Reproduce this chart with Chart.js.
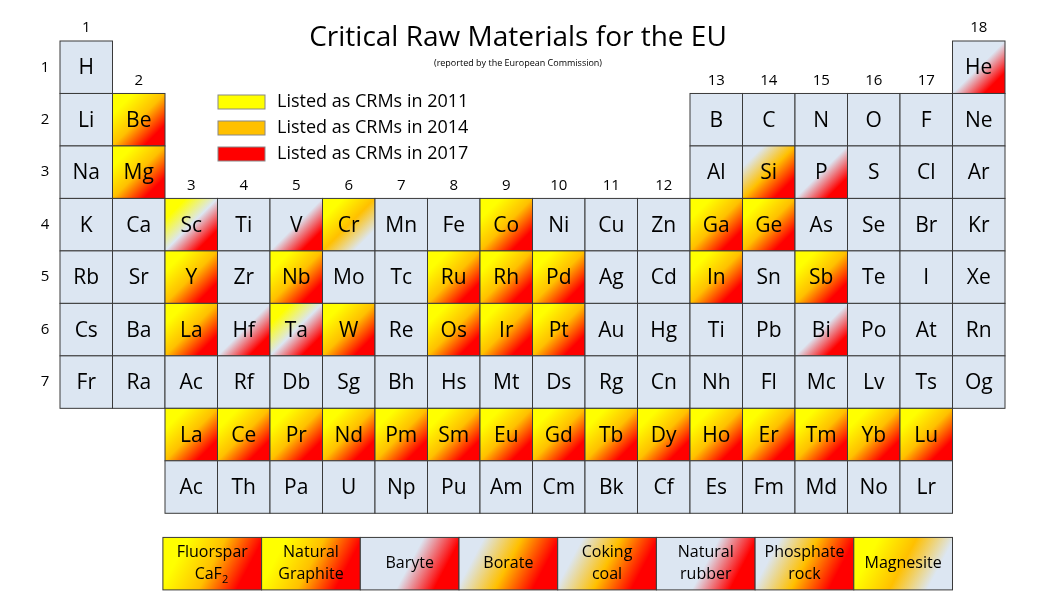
<!DOCTYPE html>
<html>
<head>
<meta charset="utf-8">
<script src="https://cdn.jsdelivr.net/npm/chart.js@4/dist/chart.umd.min.js"></script>
<style>
  body { margin: 0; background: #fff; }
  #wrap { width: 1050px; height: 600px; }
</style>
</head>
<body>
<div id="wrap"><canvas id="pt"></canvas></div>
<script>
// Periodic table layout, one string per row ('.' = empty cell)
const tableRows = [
    'H . . . . . . . . . . . . . . . . He',
    'Li Be . . . . . . . . . . B C N O F Ne',
    'Na Mg . . . . . . . . . . Al Si P S Cl Ar',
    'K Ca Sc Ti V Cr Mn Fe Co Ni Cu Zn Ga Ge As Se Br Kr',
    'Rb Sr Y Zr Nb Mo Tc Ru Rh Pd Ag Cd In Sn Sb Te I Xe',
    'Cs Ba La Hf Ta W Re Os Ir Pt Au Hg Ti Pb Bi Po At Rn',
    'Fr Ra Ac Rf Db Sg Bh Hs Mt Ds Rg Cn Nh Fl Mc Lv Ts Og',
    '. . La Ce Pr Nd Pm Sm Eu Gd Tb Dy Ho Er Tm Yb Lu .',
    '. . Ac Th Pa U Np Pu Am Cm Bk Cf Es Fm Md No Lr .'
];

const minerals = ['Fluorspar|CaF2', 'Natural|Graphite', 'Baryte', 'Borate', 'Coking|coal', 'Natural|rubber', 'Phosphate|rock', 'Magnesite'];

const lanthanides = ['Ce', 'Pr', 'Nd', 'Pm', 'Sm', 'Eu', 'Gd', 'Tb', 'Dy', 'Ho', 'Er', 'Tm', 'Yb', 'Lu'];
const crm2011 = ['Be', 'Mg', 'Sc', 'Cr', 'Co', 'Ga', 'Ge', 'Y', 'Nb', 'Ru', 'Rh', 'Pd', 'In', 'Sb', 'La', 'Ta', 'W', 'Os', 'Ir', 'Pt',
    'Fluorspar|CaF2', 'Natural|Graphite', 'Magnesite'].concat(lanthanides);
const crm2014 = ['Be', 'Mg', 'Si', 'Cr', 'Co', 'Ga', 'Ge', 'Y', 'Nb', 'Ru', 'Rh', 'Pd', 'In', 'Sb', 'La', 'W', 'Os', 'Ir', 'Pt',
    'Fluorspar|CaF2', 'Natural|Graphite', 'Borate', 'Coking|coal', 'Phosphate|rock', 'Magnesite'].concat(lanthanides);
const crm2017 = ['He', 'Be', 'Mg', 'Si', 'P', 'Sc', 'V', 'Co', 'Ga', 'Ge', 'Y', 'Nb', 'Ru', 'Rh', 'Pd', 'In', 'Sb', 'La', 'Hf', 'Ta',
    'W', 'Os', 'Ir', 'Pt', 'Bi', 'Fluorspar|CaF2', 'Natural|Graphite', 'Baryte', 'Borate', 'Coking|coal', 'Natural|rubber',
    'Phosphate|rock'].concat(lanthanides);

const groupLabels = ['1', '2', '3', '4', '5', '6', '7', '8', '9', '10', '11', '12', '13', '14', '15', '16', '17', '18'];
const periodLabels = ['1', '2', '3', '4', '5', '6', '7'];
const legendLabels = ['Listed as CRMs in 2011', 'Listed as CRMs in 2014', 'Listed as CRMs in 2017'];

const colors = { y2011: '#ffff00', y2014: '#ffc000', y2017: '#ff0000', none: '#dce6f2', border: '#3a3a3a' };
const font = '"Open Sans", "Liberation Sans", sans-serif';

// Build cell points
const cells = [];
tableRows.forEach((row, r) => {
    row.split(' ').forEach((sym, c) => {
        if (sym !== '.') cells.push({ x: c, y: r, w: 1, label: sym });
    });
});
const mineralStart = 1.96, mineralWidth = 1.88;
minerals.forEach((m, i) => cells.push({ x: mineralStart + i * mineralWidth, y: 9.46, w: mineralWidth, label: m }));

function cellFill(ctx, x0, y0, x1, y1, label) {
    const f = [crm2011, crm2014, crm2017].map(l => l.includes(label));
    const g = ctx.createLinearGradient(x0, y0, x1, y1);
    g.addColorStop(0.2, f[0] ? colors.y2011 : colors.none);
    g.addColorStop(0.5, f[1] ? colors.y2014 : colors.none);
    g.addColorStop(0.8, f[2] ? colors.y2017 : colors.none);
    return g;
}

const tablePlugin = {
    id: 'tablePlugin',
    afterDatasetsDraw(chart) {
        const { ctx, scales: { x, y } } = chart;
        ctx.save();
        chart.data.datasets[0].data.forEach(cell => {
            const x0 = x.getPixelForValue(cell.x), x1 = x.getPixelForValue(cell.x + cell.w);
            const y0 = y.getPixelForValue(cell.y), y1 = y.getPixelForValue(cell.y + 1);
            ctx.fillStyle = cellFill(ctx, x0, y0, x1, y1, cell.label);
            ctx.fillRect(x0, y0, x1 - x0, y1 - y0);
            ctx.strokeStyle = colors.border;
            ctx.lineWidth = 1;
            ctx.strokeRect(x0, y0, x1 - x0, y1 - y0);
            ctx.fillStyle = '#000';
            ctx.textAlign = 'center';
            ctx.textBaseline = 'middle';
            const cx = (x0 + x1) / 2, cy = (y0 + y1) / 2;
            const lines = cell.label.split('|');
            if (lines.length === 1 && cell.w === 1) {
                ctx.font = '21px ' + font;
                ctx.fillText(cell.label, cx, cy + 1);
            } else {
                ctx.font = '16px ' + font;
                lines.forEach((t, i) => {
                    const ty = cy + (i - (lines.length - 1) / 2) * 22;
                    if (t === 'CaF2') {
                        ctx.fillText('CaF', cx - 4, ty);
                        ctx.font = '11px ' + font;
                        ctx.fillText('2', cx + 13, ty + 5);
                        ctx.font = '16px ' + font;
                    } else {
                        ctx.fillText(t, cx, ty);
                    }
                });
            }
        });

        // group and period numbers
        ctx.font = '15px ' + font;
        groupLabels.forEach((g, i) => {
            let row = 3;
            if (i === 0 || i === 17) row = 0;
            else if (i === 1 || i >= 12) row = 1;
            ctx.fillText(g, x.getPixelForValue(i + 0.5), y.getPixelForValue(row) - 13);
        });
        periodLabels.forEach((p, i) => ctx.fillText(p, 45, y.getPixelForValue(i + 0.5)));

        // title
        ctx.font = '28px ' + font;
        ctx.fillText('Critical Raw Materials for the EU', 518, 38);
        ctx.font = '9px ' + font;
        ctx.fillText('(reported by the European Commission)', 518, 63);

        // legend
        const legendColors = [colors.y2011, colors.y2014, colors.y2017];
        legendLabels.forEach((t, i) => {
            const ly = 102 + i * 26;
            ctx.fillStyle = legendColors[i];
            ctx.fillRect(218, ly - 7, 47, 14);
            ctx.strokeStyle = '#888';
            ctx.strokeRect(218, ly - 7, 47, 14);
            ctx.fillStyle = '#000';
            ctx.textAlign = 'left';
            ctx.font = '18px ' + font;
            ctx.fillText(t, 277, ly);
        });
        ctx.restore();
    }
};

new Chart(document.getElementById('pt'), {
    type: 'scatter',
    data: { datasets: [{ data: cells, pointRadius: 0 }] },
    options: {
        responsive: true,
        maintainAspectRatio: false,
        animation: false,
        layout: { padding: { left: 60, right: 45, top: 41, bottom: 8 } },
        plugins: { legend: { display: false }, tooltip: { enabled: false } },
        scales: {
            x: { type: 'linear', min: 0, max: 18, display: false },
            y: { type: 'linear', min: 0, max: 10.5, reverse: true, display: false }
        }
    },
    plugins: [tablePlugin]
});
</script>
</body>
</html>
